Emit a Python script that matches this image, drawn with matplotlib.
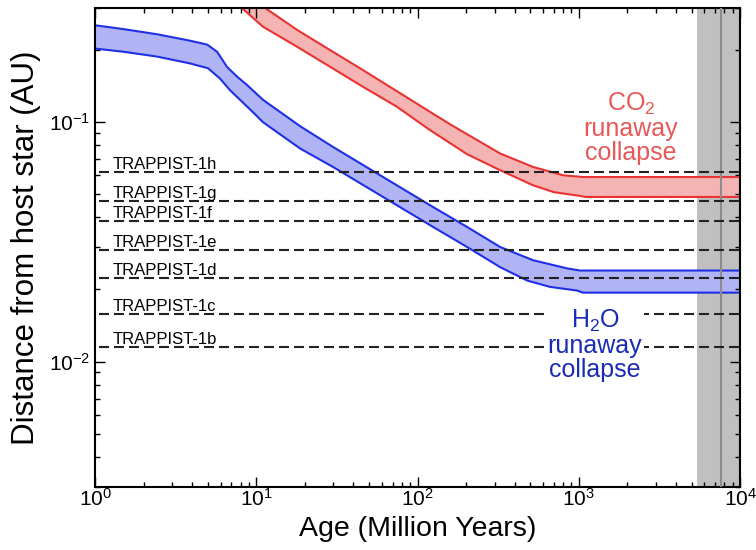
import matplotlib
matplotlib.use('Agg')
import matplotlib.pyplot as plt
import numpy as np

plt.rcParams['font.family'] = ['Liberation Sans', 'DejaVu Sans']
plt.rcParams['mathtext.fontset'] = 'custom'
plt.rcParams['mathtext.rm'] = 'Liberation Sans'
plt.rcParams['lines.scale_dashes'] = False

# semi-major axes of the TRAPPIST-1 planets (AU)
planet_names = ['TRAPPIST-1b', 'TRAPPIST-1c', 'TRAPPIST-1d', 'TRAPPIST-1e',
                'TRAPPIST-1f', 'TRAPPIST-1g', 'TRAPPIST-1h']
planet_a = [0.01154, 0.0158, 0.0223, 0.0293, 0.0385, 0.0469, 0.0619]

# H2O runaway collapse limits (age in Myr, distance in AU)
h2o_upper_age = [1.0, 1.49, 2.42, 3.88, 4.95, 5.71, 6.59, 7.60, 8.76, 11.0,
                 18.7, 29.9, 61.1, 124.8, 202.7, 325, 520, 845, 1018, 10000]
h2o_upper = [0.254, 0.245, 0.233, 0.219, 0.211, 0.197, 0.170, 0.155, 0.143, 0.124,
             0.0962, 0.0788, 0.0590, 0.0442, 0.0365, 0.0301, 0.0265, 0.0245, 0.0240, 0.0240]
h2o_lower_age = [1.0, 1.49, 2.42, 3.88, 5.02, 5.96, 6.87, 7.93, 9.54, 11.0,
                 18.7, 29.9, 61.1, 124.8, 202.7, 325, 478, 663, 975, 1060, 10000]
h2o_lower = [0.203, 0.197, 0.188, 0.176, 0.168, 0.152, 0.136, 0.124, 0.110, 0.100,
             0.0776, 0.0650, 0.0487, 0.0365, 0.0301, 0.0248, 0.0218, 0.0205, 0.0198, 0.0194, 0.0194]

# CO2 runaway collapse limits
co2_upper_age = [11.35, 17.9, 28.7, 45.9, 74.6, 119.6, 159, 325, 520, 799, 1062, 10000]
co2_upper = [0.300, 0.243, 0.200, 0.165, 0.1346, 0.1104, 0.098, 0.0740, 0.0650, 0.0600, 0.0590, 0.0590]
co2_lower_age = [8.13, 11.0, 17.9, 28.7, 45.9, 74.6, 119.6, 202.7, 325, 520, 700, 1018, 1100, 10000]
co2_lower = [0.300, 0.2505, 0.2066, 0.1703, 0.1405, 0.1159, 0.0926, 0.0735, 0.0630, 0.0545,
             0.0510, 0.0492, 0.0487, 0.0487]

# age of the system: 7.6 +/- 2.2 Gyr
age_best = 7600
age_min, age_max = 5400, 9800

fig = plt.figure(figsize=(7.56, 5.5), dpi=100)
ax = fig.add_axes([0.1257, 0.1151, 0.8533, 0.8704])

ax.axvspan(age_min, age_max, color='#c0c0c0', lw=0, zorder=0)

ax.fill(np.concatenate([h2o_upper_age, h2o_lower_age[::-1]]),
        np.concatenate([h2o_upper, h2o_lower[::-1]]),
        color='#b0b4f4', lw=0, zorder=1)
ax.plot(h2o_upper_age, h2o_upper, color='#1f2fe6', lw=1.5, zorder=2)
ax.plot(h2o_lower_age, h2o_lower, color='#1f2fe6', lw=1.5, zorder=2)

ax.fill(np.concatenate([co2_upper_age, co2_lower_age[::-1]]),
        np.concatenate([co2_upper, co2_lower[::-1]]),
        color='#f4b4b4', lw=0, zorder=1)
ax.plot(co2_upper_age, co2_upper, color='#ea3232', lw=1.5, zorder=2)
ax.plot(co2_lower_age, co2_lower, color='#ea3232', lw=1.5, zorder=2)

ax.axvline(age_best, color='#8c8c8c', lw=1.5, zorder=3)

for name, a in zip(planet_names, planet_a):
    ax.hlines(a, 0.85, 1e4, colors='#222222', lw=1.5,
              linestyles=(0, (7.2, 3.6)), zorder=4)
    ax.text(1.29, a, name, fontsize=12, ha='left', va='bottom', zorder=5)

ax.text(2100, 0.095, 'CO$_2$\nrunaway\ncollapse', color='#e85858', fontsize=18,
        ha='center', va='center', linespacing=1.0, zorder=6)
ax.text(1260, 0.0117, 'H$_2$O\nrunaway\ncollapse', color='#1a2cb4', fontsize=18,
        ha='center', va='center', linespacing=1.0, zorder=6,
        bbox=dict(facecolor='white', edgecolor='none', pad=1))

ax.set_xscale('log')
ax.set_yscale('log')
ax.set_xlim(1, 1e4)
ax.set_ylim(0.003, 0.3)
ax.set_xlabel('Age (Million Years)', fontsize=20.5, labelpad=4)
ax.set_ylabel('Distance from host star (AU)', fontsize=22.5, labelpad=6)

ax.tick_params(which='both', direction='in', top=True, right=True, labelsize=15)
ax.tick_params(which='major', length=7, width=1)
ax.tick_params(which='minor', length=3.5, width=1)
ax.tick_params(axis='x', pad=1)
for sp in ax.spines.values():
    sp.set_linewidth(1.5)

fig.savefig('out.png', dpi=100)
